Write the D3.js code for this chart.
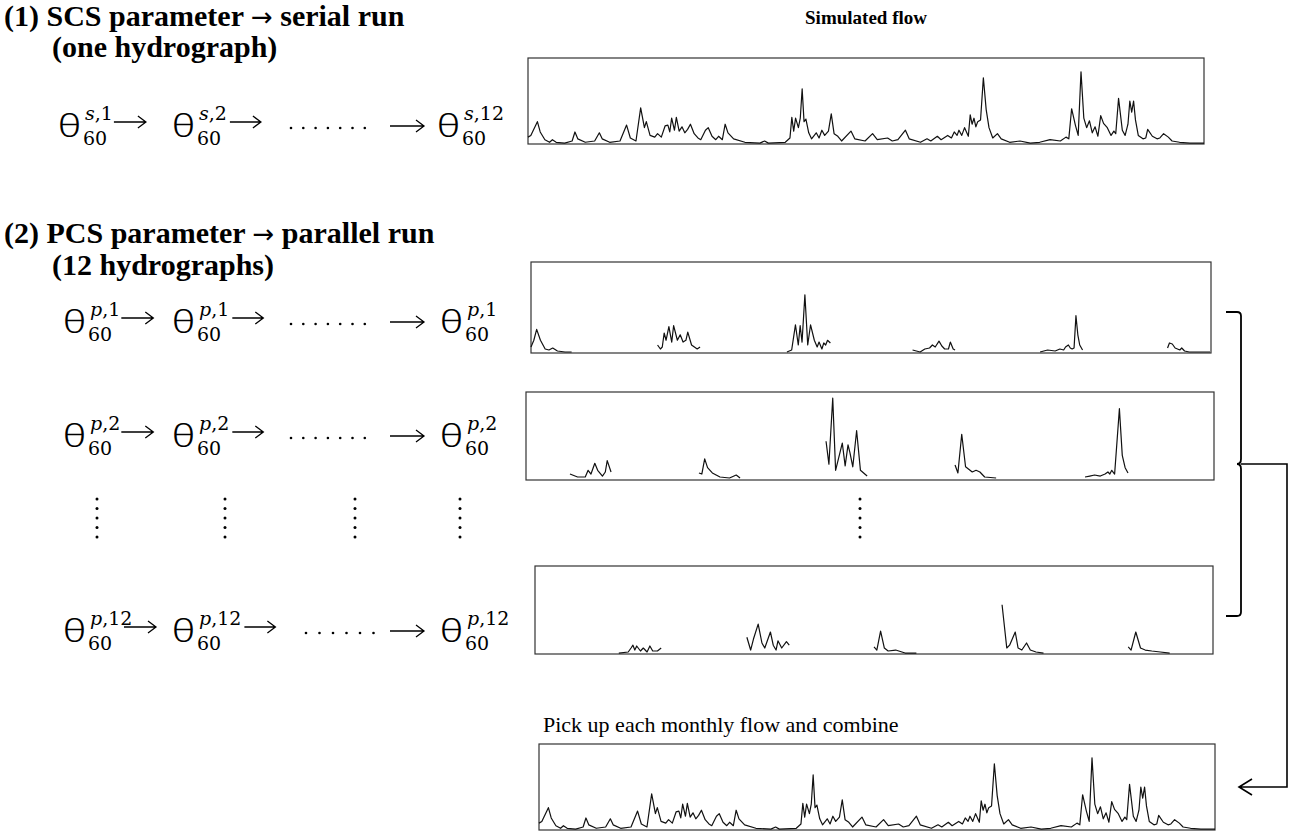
<!DOCTYPE html>
<html>
<head>
<meta charset="utf-8">
<script src="https://cdn.jsdelivr.net/npm/d3@7"></script>
<style>
  body { margin: 0; background: #fff; }
  svg { display: block; }
  .head { font-family: "Liberation Serif", "Times New Roman", serif; font-weight: bold; }
  .math { font-family: "DejaVu Serif", serif; }
  .theta { font-family: "Noto Sans", sans-serif; font-weight: 300; }
</style>
</head>
<body>
<div id="container"></div>
<script>
/* CONSTANTS AND GLOBALS */
const width = 1290,
  height = 832;

// time axis in months (6 years), flow in % of the frame maximum
const timeDomain = [0, 72];
const flowDomain = [0, 100];

// serial run (SCS parameter) : one continuous hydrograph [month, flow]
const serialFlow = [
  [0, 8], [0.3, 10], [1.0, 26], [1.3, 14], [1.8, 5], [2.3, 2], [2.6, 5], [3.0, 2], [3.9, 1], [4.7, 3.5],
  [5.0, 14], [5.3, 6], [6.1, 2], [7.1, 3.5], [7.6, 13], [7.9, 6], [8.7, 2], [9.8, 3.5], [10.5, 22], [10.9, 7],
  [11.5, 3.5], [12.0, 42], [12.4, 19], [12.6, 26], [13.0, 10], [13.5, 8], [13.8, 12], [14.2, 8], [14.6, 21], [14.9, 22],
  [15.1, 14], [15.3, 30], [15.6, 16], [15.8, 31], [16.1, 15], [16.4, 20], [16.7, 13], [17.0, 17], [17.3, 23], [17.7, 12],
  [18.1, 7], [18.4, 5], [18.9, 16], [19.2, 19], [19.6, 9], [20.0, 5], [20.3, 9], [20.7, 5], [21.0, 23], [21.3, 13],
  [21.9, 6], [23.1, 2], [24.7, 1], [25.2, 3.5], [25.6, 1], [27.4, 2], [27.9, 7], [28.1, 31], [28.3, 15], [28.5, 30],
  [28.8, 19], [29.0, 30], [29.2, 64], [29.4, 26], [29.6, 29], [29.9, 13], [30.2, 6], [30.7, 13], [31.0, 7], [31.3, 16],
  [31.6, 10], [32.0, 15], [32.3, 35], [32.6, 12], [33.0, 9], [33.4, 3.5], [34.4, 15], [34.8, 6], [35.9, 3.5], [36.7, 12],
  [37.2, 5], [38.3, 7], [38.8, 3.5], [39.4, 5], [40.2, 16], [40.6, 6], [41.8, 2], [42.5, 6], [42.9, 3.5], [43.6, 9],
  [44.0, 5], [44.7, 10], [45.1, 7], [45.4, 14], [45.7, 10], [45.9, 16], [46.2, 10], [46.5, 19], [46.9, 9], [47.1, 34],
  [47.3, 23], [47.5, 30], [47.7, 20], [47.9, 26], [48.2, 28], [48.5, 77], [48.8, 40], [49.1, 19], [49.5, 7], [50.0, 12],
  [50.4, 6], [51.3, 2], [52.4, 3.5], [53.5, 1], [54.5, 2], [55.6, 5], [56.7, 3.5], [57.3, 8], [57.6, 6], [57.9, 41],
  [58.3, 22], [58.6, 10], [58.9, 84], [59.2, 30], [59.5, 19], [59.8, 27], [60.1, 13], [60.4, 20], [60.7, 9], [61.0, 33],
  [61.3, 24], [61.7, 19], [62.1, 10], [62.4, 15], [62.6, 12], [62.9, 53], [63.3, 16], [63.6, 10], [63.9, 23], [64.1, 50],
  [64.3, 37], [64.5, 50], [64.7, 28], [65.0, 10], [65.5, 6], [65.8, 7], [66.0, 17], [66.5, 9], [67.0, 6], [67.3, 7],
  [67.7, 12], [68.2, 8], [68.6, 3.5], [69.4, 2], [70.5, 1], [72.0, 1]
];

// parallel runs (PCS parameter) : one month window per year, [month, flow]
const parallelRun1 = [
  [[0, 6.6], [0.3, 14], [0.6, 26], [1.0, 14], [1.5, 4.4], [1.9, 3.3], [2.3, 5.5], [2.8, 2.2], [3.6, 1.1], [4.3, 1.1]],
  [[13.4, 8.8], [13.7, 4.4], [13.9, 6.6], [14.1, 22], [14.3, 14], [14.6, 29], [14.9, 12], [15.1, 30], [15.5, 14], [15.8, 20],
   [16.1, 12], [16.4, 14], [16.6, 23], [17.0, 8.8], [17.6, 4.4], [17.9, 6.6]],
  [[27.1, 1.1], [27.6, 3.3], [28.0, 31], [28.3, 8.8], [28.5, 30], [28.7, 12], [29.0, 64], [29.3, 8.8], [29.6, 31], [30.0, 14],
   [30.3, 6.6], [30.5, 12], [30.8, 4.4], [31.0, 11], [31.2, 8.8], [31.4, 14], [31.7, 11]],
  [[40.4, 3.3], [41.2, 1.1], [41.7, 4.4], [42.2, 5.5], [42.5, 8.8], [42.8, 6.6], [43.2, 13], [43.5, 7.7], [43.8, 4.4], [44.2, 4.4],
   [44.4, 12], [44.7, 4.4], [44.9, 3.3]],
  [[53.9, 1.1], [54.7, 3.3], [55.5, 2.2], [56.0, 4.4], [56.4, 3.3], [56.6, 6.6], [56.9, 8.8], [57.1, 5.5], [57.3, 4.4], [57.5, 5.5],
   [57.7, 41], [57.9, 20], [58.1, 8.8], [58.4, 3.3]],
  [[67.4, 5.5], [67.6, 11], [67.9, 9.9], [68.2, 5.5], [68.7, 3.3], [68.9, 5.5], [69.2, 2.2], [69.7, 1.1], [71.9, 1.1]]
];

const parallelRun2 = [
  [[4.6, 6.8], [5.4, 3.4], [6.2, 3.4], [6.5, 11], [6.8, 6.8], [7.2, 19], [7.5, 11], [8.0, 4.5], [8.3, 9.1], [8.5, 22], [8.9, 9.1]],
  [[18.1, 8], [18.4, 6.8], [18.7, 24], [19.0, 14], [19.5, 8], [20.3, 3.4], [21.3, 2.3], [22.0, 5.7], [22.4, 2.3]],
  [[31.4, 44], [31.7, 18], [32.1, 93], [32.4, 11], [33.1, 42], [33.4, 16], [33.7, 40], [33.9, 31], [34.2, 15], [34.6, 56],
   [35.0, 11], [35.7, 4.5]],
  [[44.9, 17], [45.2, 8], [45.6, 52], [46.0, 15], [46.7, 9.1], [47.1, 11], [47.5, 9.1], [48.0, 3.4], [49.2, 2.3]],
  [[58.5, 3.4], [59.0, 4.5], [59.5, 5.7], [60.1, 4.5], [60.6, 6.8], [60.9, 9.1], [61.1, 6.8], [61.3, 11], [61.6, 6.8], [62.1, 81],
   [62.4, 28], [62.7, 14], [63.0, 8]]
];

const parallelRun12 = [
  [[8.9, 1.1], [9.9, 2.3], [10.2, 6.8], [10.4, 10], [10.6, 4.5], [10.8, 9.1], [11.2, 3.4], [11.5, 6.8], [11.9, 2.3], [12.2, 9.1],
   [12.5, 3.4], [13.0, 3.4], [13.4, 6.8]],
  [[22.5, 19], [22.9, 4.5], [23.2, 17], [23.7, 34], [24.1, 12.5], [24.4, 6.8], [25.0, 25], [25.3, 10], [25.6, 4.5], [25.8, 15],
   [26.2, 6.8], [26.7, 14], [27.0, 10]],
  [[36.0, 8], [36.3, 4.5], [36.7, 26], [37.1, 6.8], [37.5, 3.4], [38.3, 4.5], [39.3, 1.1], [40.5, 1.1]],
  [[49.6, 56], [50.1, 6.8], [50.4, 10], [51.0, 25], [51.3, 6.8], [51.7, 4.5], [52.2, 12.5], [52.6, 4.5], [53.2, 2.3], [54.0, 1.1]],
  [[63.0, 8], [63.3, 4.5], [63.8, 25], [64.3, 6.8], [64.8, 4.5], [65.5, 3.4], [66.4, 2.3], [67.4, 1.1]]
];

// combined = each monthly window picked up from the parallel runs
const combinedFlow = serialFlow;

// labels
const headings = [
  { pre: "(1) SCS parameter ", post: " serial run", x: 4, y: 26 },
  { pre: "(one hydrograph)", post: "", x: 52, y: 57 },
  { pre: "(2) PCS parameter ", post: " parallel run", x: 4, y: 243 },
  { pre: "(12 hydrographs)", post: "", x: 52, y: 275 }
];
const thetaRows = [
  { sups: [["s", ",1"], ["s", ",2"], ["s", ",12"]], y: 137, x: [58, 172, 437], dots: 7 },
  { sups: [["p", ",1"], ["p", ",1"], ["p", ",1"]], y: 333, x: [63, 172, 440], dots: 7 },
  { sups: [["p", ",2"], ["p", ",2"], ["p", ",2"]], y: 447, x: [63, 172, 440], dots: 7 },
  { sups: [["p", ",12"], ["p", ",12"], ["p", ",12"]], y: 642, x: [63, 172, 440], dots: 6 }
];

// frames of the five hydrographs
const frames = [
  { series: [serialFlow], x: 528, y: 58, w: 676, h: 86 },
  { series: parallelRun1, x: 531, y: 262, w: 680, h: 91 },
  { series: parallelRun2, x: 526, y: 392, w: 688, h: 88 },
  { series: parallelRun12, x: 535, y: 566, w: 678, h: 88 },
  { series: [combinedFlow], x: 539, y: 744, w: 676, h: 86 }
];

const svg = d3.select("#container")
  .append("svg")
  .attr("width", width)
  .attr("height", height);

// HEADINGS
const heads = svg.selectAll("text.head")
  .data(headings)
  .join("text")
  .attr("class", "head")
  .attr("x", d => d.x)
  .attr("y", d => d.y)
  .attr("font-size", 30);
heads.append("tspan").text(d => d.pre);
heads.filter(d => d.post)
  .append("tspan")
  .attr("font-family", "DejaVu Sans")
  .attr("font-weight", "normal")
  .attr("font-size", 26)
  .text("\u2192");
heads.append("tspan").text(d => d.post);

svg.append("text")
  .attr("class", "head")
  .attr("x", 866)
  .attr("y", 24)
  .attr("text-anchor", "middle")
  .attr("font-size", 19)
  .text("Simulated flow");

svg.append("text")
  .attr("x", 543)
  .attr("y", 732)
  .attr("font-family", "Liberation Serif, serif")
  .attr("font-size", 22)
  .text("Pick up each monthly flow and combine");

// HYDROGRAPHS
frames.forEach(f => {
  const x = d3.scaleLinear().domain(timeDomain).range([f.x, f.x + f.w]);
  const y = d3.scaleLinear().domain(flowDomain).range([f.y + f.h, f.y]);
  const lineGen = d3.line().x(d => x(d[0])).y(d => y(d[1]));

  const g = svg.append("g");
  g.append("rect")
    .attr("x", x.range()[0])
    .attr("y", y.range()[1])
    .attr("width", f.w)
    .attr("height", f.h)
    .attr("fill", "none")
    .attr("stroke", "#333")
    .attr("stroke-width", 1.2);

  g.selectAll("path")
    .data(f.series)
    .join("path")
    .attr("d", d => lineGen(d))
    .attr("fill", "none")
    .attr("stroke", "#111")
    .attr("stroke-width", 1.2)
    .attr("stroke-linejoin", "round");
});

// THETA ROWS
function arrow(g, x0, x1, yy) {
  g.append("path")
    .attr("d", `M${x0},${yy}H${x1}M${x1 - 8},${yy - 6}L${x1},${yy}L${x1 - 8},${yy + 6}`)
    .attr("fill", "none")
    .attr("stroke", "#000")
    .attr("stroke-width", 1.3);
}

thetaRows.forEach(row => {
  const g = svg.append("g");
  const supEnds = [];
  row.x.forEach((tx, i) => {
    g.append("text")
      .attr("class", "theta")
      .attr("x", tx)
      .attr("y", row.y)
      .attr("font-size", 32)
      .attr("textLength", 23)
      .attr("lengthAdjust", "spacingAndGlyphs")
      .text("\u03b8");
    const sup = g.append("text")
      .attr("class", "math")
      .attr("x", tx + 27)
      .attr("y", row.y - 17)
      .attr("font-size", 19);
    sup.append("tspan").attr("font-style", "italic").text(row.sups[i][0]);
    sup.append("tspan").text(row.sups[i][1]);
    supEnds.push(tx + 27 + sup.node().getComputedTextLength());
    g.append("text")
      .attr("class", "math")
      .attr("x", tx + 25)
      .attr("y", row.y + 8)
      .attr("font-size", 19)
      .text("60");
  });
  const a1 = Math.min(supEnds[0] + 1, 124);
  arrow(g, a1, a1 + 32, row.y - 15);
  arrow(g, supEnds[1] + 3, supEnds[1] + 34, row.y - 15);
  arrow(g, 390, 424, row.y - 11);
  const dotStart = row.dots === 7 ? 291 : 306,
    dotStep = row.dots === 7 ? 12.3 : 13.5;
  g.selectAll("circle")
    .data(d3.range(row.dots))
    .join("circle")
    .attr("cx", d => dotStart + d * dotStep)
    .attr("cy", row.y - 9)
    .attr("r", 1.3)
    .attr("fill", "#000");
});

// VERTICAL ELLIPSES
[97, 225, 355, 460, 860].forEach(cx => {
  svg.append("g").selectAll("circle")
    .data(d3.range(5))
    .join("circle")
    .attr("cx", cx)
    .attr("cy", d => 499 + d * 9.5)
    .attr("r", 1.5)
    .attr("fill", "#000");
});

// BRACKET AND RETURN ARROW
svg.append("path")
  .attr("d", "M1226,312H1237Q1241,312 1241,316V459Q1241,464 1237,464Q1241,464 1241,469V612Q1241,616 1237,616H1226")
  .attr("fill", "none")
  .attr("stroke", "#000")
  .attr("stroke-width", 1.8);
svg.append("path")
  .attr("d", "M1241,464H1287V787H1239M1252,779L1239,787L1252,795")
  .attr("fill", "none")
  .attr("stroke", "#000")
  .attr("stroke-width", 1.6);
</script>
</body>
</html>
